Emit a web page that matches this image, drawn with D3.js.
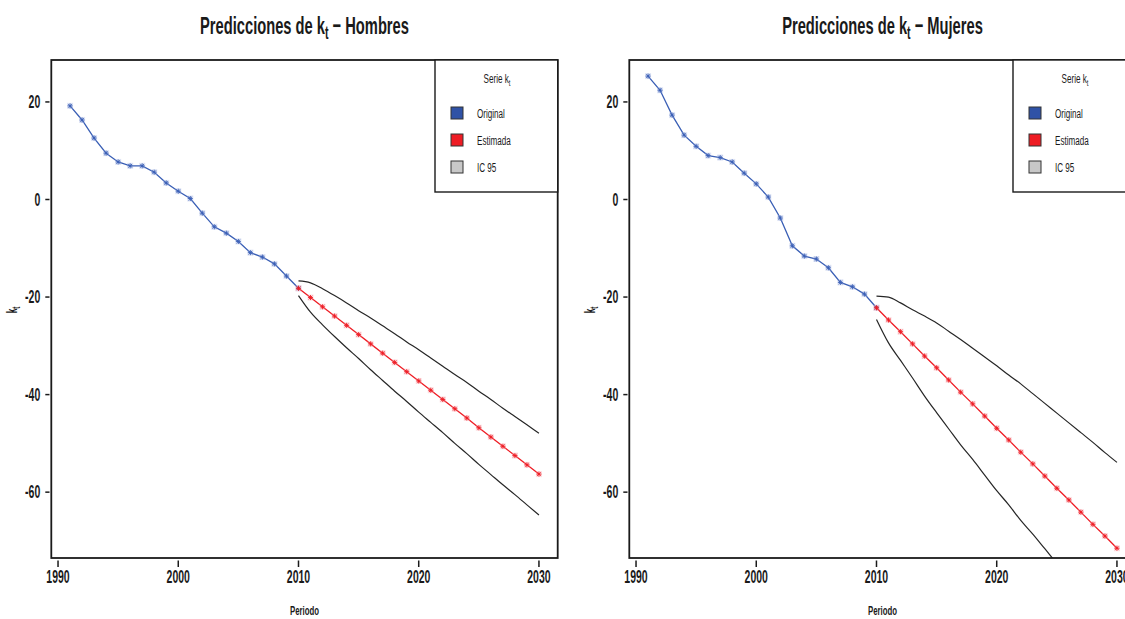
<!DOCTYPE html>
<html>
<head>
<meta charset="utf-8">
<script src="https://cdn.jsdelivr.net/npm/d3@7"></script>
<style>
  html, body { margin: 0; padding: 0; background: #ffffff; }
  svg { display: block; }
  text { font-family: "Liberation Sans", Arial, Helvetica, sans-serif; fill: #1a1a1a; }
</style>
</head>
<body>
<svg id="chart" width="1125" height="619"></svg>
<script>
// Periods
const histYears = [1991, 1992, 1993, 1994, 1995, 1996, 1997, 1998, 1999, 2000,
                   2001, 2002, 2003, 2004, 2005, 2006, 2007, 2008, 2009, 2010];
const forecastYears = [2010, 2011, 2012, 2013, 2014, 2015, 2016, 2017, 2018, 2019, 2020,
                       2021, 2022, 2023, 2024, 2025, 2026, 2027, 2028, 2029, 2030];

// k_t – Hombres
const hombresOriginal = [19.2, 16.3, 12.6, 9.5, 7.7, 6.9, 6.9, 5.6, 3.4, 1.7,
                         0.2, -2.8, -5.6, -6.9, -8.6, -10.9, -11.8, -13.2, -15.7, -18.2];
const hombresEstimada = [-18.2, -20.1, -22.0, -23.9, -25.8, -27.7, -29.6, -31.5, -33.4, -35.3, -37.2,
                         -39.1, -41.0, -42.9, -44.8, -46.8, -48.7, -50.6, -52.5, -54.4, -56.3];
const hombresIcSup = [-16.7, -17.1, -18.3, -19.7, -21.2, -22.8, -24.3, -25.9, -27.5, -29.2, -30.8,
                      -32.5, -34.2, -35.9, -37.5, -39.3, -41.0, -42.8, -44.5, -46.2, -47.9];
const hombresIcInf = [-19.7, -23.1, -25.7, -28.1, -30.4, -32.6, -34.9, -37.1, -39.3, -41.4, -43.6,
                      -45.7, -47.8, -50.0, -52.1, -54.3, -56.4, -58.5, -60.5, -62.6, -64.7];

// k_t – Mujeres
const mujeresOriginal = [25.3, 22.4, 17.3, 13.2, 10.9, 9.0, 8.6, 7.7, 5.4, 3.2,
                         0.5, -3.8, -9.5, -11.6, -12.2, -14.0, -17.0, -17.9, -19.4, -22.2];
const mujeresEstimada = [-22.2, -24.7, -27.1, -29.6, -32.1, -34.5, -37.0, -39.5, -41.9, -44.4, -46.9,
                         -49.3, -51.8, -54.2, -56.7, -59.2, -61.6, -64.1, -66.6, -69.0, -71.5];
const mujeresIcSup = [-19.8, -20.0, -21.2, -22.6, -23.9, -25.3, -27.0, -28.7, -30.5, -32.3, -34.1,
                      -36.0, -37.8, -39.8, -41.8, -43.8, -45.8, -47.8, -49.8, -51.9, -53.9];
const mujeresIcInf = [-24.6, -29.4, -33.0, -36.6, -40.3, -43.7, -47.0, -50.3, -53.3, -56.5, -59.7,
                      -62.6, -65.8, -68.6, -71.6, -74.6, -77.4, -80.4, -83.4, -86.1, -89.1];

// Axes
const xTicks = [1990, 2000, 2010, 2020, 2030];
const xTickLabels = ["1990", "2000", "2010", "2020", "2030"];
const yTicks = [20, 0, -20, -40, -60];
const yTickLabels = ["20", "0", "-20", "-40", "-60"];
const xDomain = [1989.44, 2031.56];
const yDomain = [-73.5, 28.6];

// Legend
const legendTitle = "Serie";
const legendLabels = ["Original", "Estimada", "IC 95"];
const legendColors = ["#2f52a6", "#ee1c24", "#c8c8c8"];

const panels = [
  { title: "Hombres", dx: 0, orig: hombresOriginal, est: hombresEstimada, sup: hombresIcSup, inf: hombresIcInf },
  { title: "Mujeres", dx: 578, orig: mujeresOriginal, est: mujeresEstimada, sup: mujeresIcSup, inf: mujeresIcInf }
];

const BLUE = "#3a5fb5";
const RED = "#ee1c24";
const SX = 0.6; // narrow lettering

const svg = d3.select("#chart");

// text drawn with a horizontal squeeze
function narrowText(parent, x, y, str, size, weight, anchor, rotate) {
  const t = parent.append("text")
    .attr("transform", `translate(${x},${y})` + (rotate ? ` rotate(${rotate})` : "") + ` scale(${SX},1)`)
    .attr("font-size", size)
    .attr("font-weight", weight)
    .attr("text-anchor", anchor);
  if (str !== null) t.text(str);
  return t;
}
function addKt(t) {
  t.append("tspan").text("k");
  t.append("tspan").attr("font-size", "0.72em").attr("dy", "0.28em").text("t");
  return t;
}

panels.forEach((p, i) => {
  const left = 51.3 + p.dx, right = 557.7 + p.dx, top = 60, bottom = 558;
  const x = d3.scaleLinear().domain(xDomain).range([left, right]);
  const y = d3.scaleLinear().domain(yDomain).range([bottom, top]);
  const g = svg.append("g");

  const clipId = "clip" + i;
  svg.append("clipPath").attr("id", clipId)
    .append("rect").attr("x", left).attr("y", top).attr("width", right - left).attr("height", bottom - top);
  const plot = g.append("g").attr("clip-path", `url(#${clipId})`);

  // Confidence band edges
  const lineF = d3.line().x((d, k) => x(forecastYears[k])).y(d => y(d)).curve(d3.curveMonotoneX);
  [p.sup, p.inf].forEach(arr => {
    plot.append("path").datum(arr).attr("d", lineF)
      .attr("fill", "none").attr("stroke", "#262626").attr("stroke-width", 1.2);
  });

  // Series with star markers
  function series(values, years, color, halo) {
    const line = d3.line().x((d, k) => x(years[k])).y(d => y(d));
    plot.append("path").datum(values).attr("d", line)
      .attr("fill", "none").attr("stroke", color).attr("stroke-width", 1.3);
    const m = plot.append("g").selectAll("g").data(values).join("g")
      .attr("transform", (d, k) => `translate(${x(years[k])},${y(d)})`);
    m.append("rect").attr("x", -3).attr("y", -3).attr("width", 6).attr("height", 6)
      .attr("fill", halo).attr("opacity", 0.35);
    m.append("path").attr("d", "M-2.5,0H2.5M0,-2.5V2.5M-1.8,-1.8L1.8,1.8M-1.8,1.8L1.8,-1.8")
      .attr("stroke", color).attr("stroke-width", 0.9).attr("fill", "none");
  }
  series(p.orig, histYears, BLUE, "#9db0e0");
  series(p.est, forecastYears, RED, "#f5a0a8");

  // Frame
  g.append("rect").attr("x", left).attr("y", top).attr("width", right - left).attr("height", bottom - top)
    .attr("fill", "none").attr("stroke", "#1a1a1a").attr("stroke-width", 1.8);

  // x axis
  xTicks.forEach((v, k) => {
    g.append("line").attr("x1", x(v)).attr("x2", x(v)).attr("y1", bottom + 2.5).attr("y2", bottom + 9)
      .attr("stroke", "#1a1a1a").attr("stroke-width", 1.5);
    narrowText(g, x(v), 583, xTickLabels[k], 17.5, "bold", "middle");
  });
  // y axis
  yTicks.forEach((v, k) => {
    g.append("line").attr("x1", left - 6).attr("x2", left - 1.8).attr("y1", y(v)).attr("y2", y(v))
      .attr("stroke", "#1a1a1a").attr("stroke-width", 1.5);
    narrowText(g, left - 11, y(v) + 6.3, yTickLabels[k], 17.5, "bold", "end");
  });

  // Titles
  const tt = narrowText(g, (left + right) / 2, 34, null, 24.5, "bold", "middle");
  tt.append("tspan").text("Predicciones de k");
  tt.append("tspan").attr("font-size", "0.72em").attr("dy", "0.3em").text("t");
  tt.append("tspan").attr("dy", "-0.22em").text(" \u2212 " + p.title);

  narrowText(g, (left + right) / 2, 615, "Periodo", 13, "bold", "middle");
  addKt(narrowText(g, 17 + p.dx, 310, null, 14, "bold", "middle", -90));

  // Legend
  const lx = 435 + p.dx, ly = 60;
  const lg = g.append("g");
  lg.append("rect").attr("x", lx).attr("y", ly).attr("width", right - lx).attr("height", 132)
    .attr("fill", "#ffffff").attr("stroke", "#1a1a1a").attr("stroke-width", 1.4);
  const lt = narrowText(lg, lx + 62, ly + 23, null, 13.5, "normal", "middle");
  lt.append("tspan").text(legendTitle + " k");
  lt.append("tspan").attr("font-size", "0.72em").attr("dy", "0.3em").text("t");
  legendLabels.forEach((lab, k) => {
    const cy = ly + 53 + k * 27;
    lg.append("rect").attr("x", lx + 16).attr("y", cy - 6).attr("width", 12).attr("height", 12)
      .attr("fill", legendColors[k]).attr("stroke", "#333333").attr("stroke-width", 1);
    narrowText(lg, lx + 42, cy + 4.5, lab, 13.5, "normal", "start");
  });
});
</script>
</body>
</html>
